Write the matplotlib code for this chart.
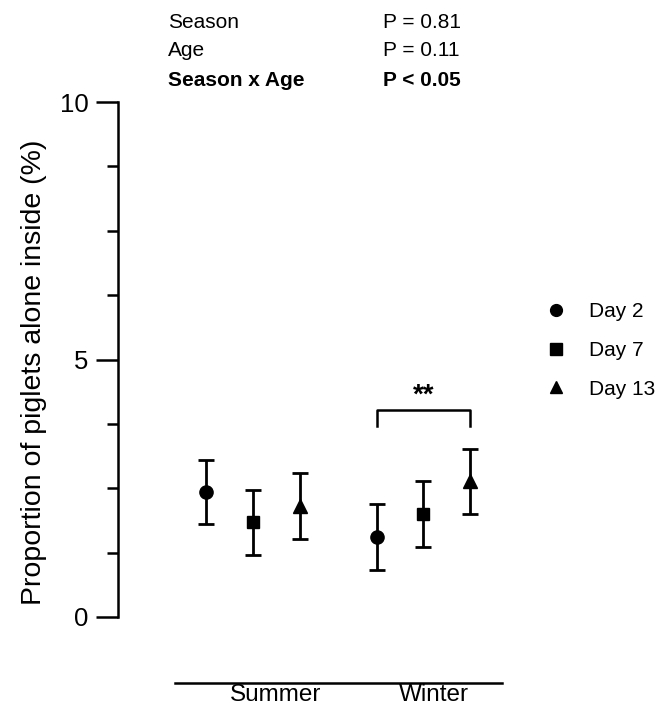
import matplotlib
matplotlib.use("Agg")
import matplotlib.pyplot as plt
from matplotlib.lines import Line2D
import numpy as np

plt.rcParams['font.family'] = ['Liberation Sans', 'DejaVu Sans']

seasons = ["Summer", "Winter"]
days = ["Day 2", "Day 7", "Day 13"]
markers = ["o", "s", "^"]
means = {
    "Summer": [2.43, 1.84, 2.155],
    "Winter": [1.55, 2.00, 2.635],
}
sem = {
    "Summer": [0.625, 0.63, 0.635],
    "Winter": [0.64, 0.64, 0.635],
}
stats_labels = ["Season", "Age", "Season x Age"]
stats_values = ["P = 0.81", "P = 0.11", "P < 0.05"]
stats_bold = [False, False, True]
yticks_major = [0, 5, 10]

W, H = 670, 714
fig = plt.figure(figsize=(W / 100, H / 100), dpi=100)
ax_left, ax_right, ax_bottom, ax_top = 118, 520, 617, 102
ax = fig.add_axes([ax_left / W, 1 - ax_bottom / H, (ax_right - ax_left) / W, (ax_bottom - ax_top) / H])

offsets = np.array([-0.2745, 0.0, 0.2745])
group_pos = np.arange(len(seasons))
for gi, s in enumerate(seasons):
    for di in range(len(days)):
        ax.errorbar(group_pos[gi] + offsets[di], means[s][di], yerr=sem[s][di],
                    fmt=markers[di], color='black', ms=9.5 if markers[di] != 's' else 9,
                    elinewidth=2.0, capsize=5.5, capthick=2.0, clip_on=False)

ax.set_xlim(-0.793, 1.568)
ax.set_ylim(0, 10)

for sp in ['top', 'right']:
    ax.spines[sp].set_visible(False)
ax.spines['left'].set_linewidth(1.8)
ax.spines['bottom'].set_position(('outward', 47.5))
ax.spines['bottom'].set_bounds(-0.458, 1.462)
ax.spines['bottom'].set_linewidth(1.8)

ax.set_yticks(yticks_major)
ax.set_yticks(np.arange(0, 10.01, 1.25), minor=True)
ax.tick_params(axis='y', which='major', length=15.8, width=1.8, labelsize=18.5, pad=5.5)
ax.tick_params(axis='y', which='minor', length=7.9, width=1.8)
ax.set_xticks(group_pos + np.array([0.13, 0.065]))
ax.set_xticklabels(seasons, fontsize=17.5)
ax.tick_params(axis='x', length=0, pad=1)
ax.set_ylabel("Proportion of piglets alone inside (%)", fontsize=20.5)
ax.yaxis.set_label_coords(-0.177, 0.476)

# significance bracket (Winter Day 2 vs Day 13)
x1 = group_pos[1] + offsets[0]
x2 = group_pos[1] + offsets[2]
yb, yl = 4.02, 3.71
ax.plot([x1, x1, x2, x2], [yl, yb, yb, yl], color='black', lw=1.8, clip_on=False)
ax.text((x1 + x2) / 2, yb + 0.02, "**", ha='center', va='bottom', fontsize=20, fontweight='bold')

# stats text
row_y = [22.5, 51, 80]
for lab, val, b, yy in zip(stats_labels, stats_values, stats_bold, row_y):
    fw = 'bold' if b else 'normal'
    fig.text(168 / W, 1 - yy / H, lab, ha='left', va='center', fontsize=15, fontweight=fw)
    fig.text(383 / W, 1 - yy / H, val, ha='left', va='center', fontsize=15, fontweight=fw)

handles = [Line2D([], [], marker=m, ls='none', color='black', ms=8.5) for m in markers]
fig.legend(handles, days, loc='upper left', bbox_to_anchor=(546 / W, 1 - 302 / H),
           frameon=False, fontsize=15, handlelength=1.0, handletextpad=1.05,
           labelspacing=0.95, borderpad=0, borderaxespad=0)

fig.savefig("out.png", dpi=100)
